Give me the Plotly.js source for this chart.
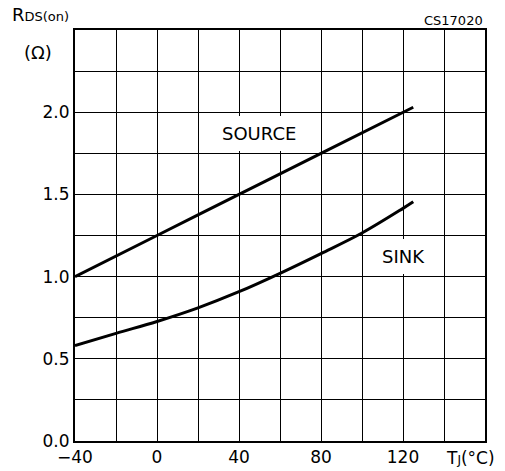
<!DOCTYPE html>
<html>
<head>
<meta charset="utf-8">
<script src="https://cdn.plot.ly/plotly-3.0.1.min.js"></script>
<style>html,body{margin:0;padding:0;background:#fff;}#chart{width:505px;height:471px;}</style>
</head>
<body>
<div id="chart"></div>
<script>
// Junction temperature (°C) and on-resistance (Ω)
const tempSource = [-40, 0, 40, 80, 125];
const rdsSource  = [1.00, 1.25, 1.50, 1.75, 2.03];

const tempSink = [-40, -20, 0, 20, 40, 60, 80, 100, 120, 125];
const rdsSink  = [0.58, 0.655, 0.727, 0.81, 0.908, 1.02, 1.14, 1.265, 1.415, 1.455];

const xTickVals = [-40, -20, 0, 20, 40, 60, 80, 100, 120, 140, 160];
const xTickText = ['\u221240', '', '0', '', '40', '', '80', '', '120', '', ''];
const yTickVals = [0, 0.25, 0.5, 0.75, 1.0, 1.25, 1.5, 1.75, 2.0, 2.25, 2.5];
const yTickText = ['0.0', '', '0.5', '', '1.0', '', '1.5', '', '2.0', '', ''];

const FONT = 'DejaVu Sans, Liberation Sans, sans-serif';

const traces = [
  {x: tempSource, y: rdsSource, mode: 'lines', line: {color: '#000', width: 3, shape: 'spline'}, hoverinfo: 'skip', name: 'SOURCE'},
  {x: tempSink, y: rdsSink, mode: 'lines', line: {color: '#000', width: 3, shape: 'spline'}, hoverinfo: 'skip', name: 'SINK'}
];

const layout = {
  width: 505, height: 471,
  margin: {l: 75, r: 20, t: 30, b: 30, pad: 0},
  paper_bgcolor: '#fff', plot_bgcolor: '#fff',
  showlegend: false,
  font: {family: FONT, color: '#000', size: 17},
  xaxis: {
    range: [-40, 160], tickmode: 'array', tickvals: xTickVals, ticktext: xTickText,
    showgrid: true, gridcolor: '#000', gridwidth: 1, zeroline: false,
    showline: true, linecolor: '#000', linewidth: 2, mirror: true,
    ticks: '', tickfont: {family: FONT, size: 17, color: '#000'}, fixedrange: true
  },
  yaxis: {
    range: [0, 2.5], tickmode: 'array', tickvals: yTickVals, ticktext: yTickText,
    showgrid: true, gridcolor: '#000', gridwidth: 1, zeroline: false,
    showline: true, linecolor: '#000', linewidth: 2, mirror: true,
    ticks: '', tickfont: {family: FONT, size: 17, color: '#000'}, fixedrange: true
  },
  annotations: [
    {text: 'SOURCE', x: 49.7, y: 1.872, xref: 'x', yref: 'y', showarrow: false,
     font: {family: FONT, size: 18, color: '#000'}, bgcolor: '#fff', borderpad: 7, borderwidth: 0},
    {text: 'SINK', x: 120.4, y: 1.1235, xref: 'x', yref: 'y', showarrow: false,
     font: {family: FONT, size: 18, color: '#000'}, bgcolor: '#fff', borderpad: 7, borderwidth: 0},
    {text: 'R<span style="font-size:13px">DS(on)</span>', x: -0.158, y: 1.037, xref: 'paper', yref: 'paper',
     xanchor: 'left', yanchor: 'middle', showarrow: false, font: {family: FONT, size: 18, color: '#000'}},
    {text: '(\u03A9)', x: -0.090, y: 0.946, xref: 'paper', yref: 'paper',
     xanchor: 'center', yanchor: 'middle', showarrow: false, font: {family: FONT, size: 18, color: '#000'}},
    {text: 'CS17020', x: 1.0, y: 1.022, xref: 'paper', yref: 'paper',
     xanchor: 'right', yanchor: 'middle', showarrow: false, font: {family: FONT, size: 13, color: '#000'}},
    {text: 'T<span style="font-size:12px">J</span>(\u00B0C)', x: 0.900, y: -0.0414, xref: 'paper', yref: 'paper',
     xanchor: 'left', yanchor: 'middle', showarrow: false, font: {family: FONT, size: 17, color: '#000'}}
  ]
};

Plotly.newPlot('chart', traces, layout, {staticPlot: true, displayModeBar: false});
</script>
</body>
</html>
